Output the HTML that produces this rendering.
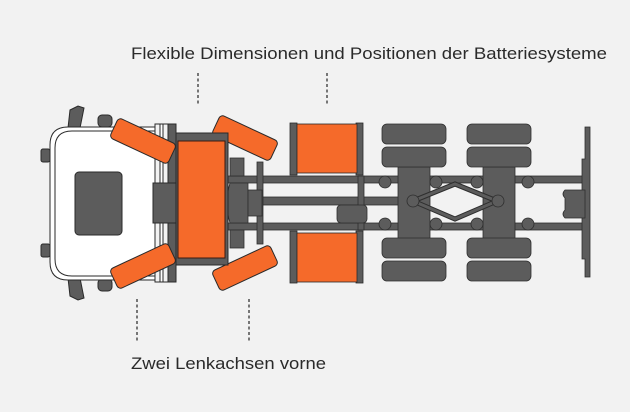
<!DOCTYPE html>
<html><head><meta charset="utf-8"><style>
html,body{margin:0;padding:0;background:#f2f2f2;}
svg{display:block;}
text{font-family:"Liberation Sans",sans-serif;fill:#2a2a2a;}
</style></head><body>
<svg width="630" height="412" viewBox="0 0 630 412" xmlns="http://www.w3.org/2000/svg">
<rect width="630" height="412" fill="#f2f2f2"/>
<text x="131" y="59" font-size="17" textLength="476" lengthAdjust="spacingAndGlyphs">Flexible Dimensionen und Positionen der Batteriesysteme</text>
<text x="131" y="369" font-size="17" textLength="195" lengthAdjust="spacingAndGlyphs">Zwei Lenkachsen vorne</text>
<g stroke="#333" stroke-width="1.3" stroke-dasharray="3,2.5">
<line x1="198" y1="73" x2="198" y2="106"/>
<line x1="327" y1="73" x2="327" y2="106"/>
<line x1="137" y1="299" x2="137" y2="343"/>
<line x1="249" y1="299" x2="249" y2="343"/>
</g>
<g fill="#5c5c5c" stroke="#2e2e2e" stroke-width="0.8">
<!-- chassis rails -->
<rect x="160" y="176" width="427" height="7"/>
<rect x="160" y="223" width="428" height="7"/>
<rect x="250" y="197" width="160" height="8"/>
<!-- rear crossbar -->
<path d="M585 127 h5 v150 h-5 v-18 h-3 v-100 h3 z"/>
<path d="M565 190 h20 v28 h-20 q-4 -4 0 -8 v-12 q-4-4 0-8z"/>
<!-- crossmembers -->
<rect x="257" y="162" width="6" height="82"/>
<rect x="358" y="176" width="6" height="54"/>
<!-- front axle area -->
<rect x="163" y="160" width="13" height="86"/>
<rect x="230" y="158" width="14" height="18"/>
<rect x="230" y="230" width="14" height="18"/>
<path d="M230 183 h18 v40 h-18 q-6 -20 0 -40z"/>
<rect x="248" y="190" width="14" height="26"/>
<rect x="337" y="205" width="30" height="18" rx="4"/>
<!-- rear axles hubs -->
<rect x="398" y="167" width="32" height="72"/>
<rect x="483" y="167" width="32" height="72"/>
<circle cx="385" cy="182" r="6"/><circle cx="436" cy="182" r="6"/>
<circle cx="385" cy="224" r="6"/><circle cx="436" cy="224" r="6"/>
<circle cx="477" cy="182" r="6"/><circle cx="528" cy="182" r="6"/>
<circle cx="477" cy="224" r="6"/><circle cx="528" cy="224" r="6"/>
<path d="M413 201 L455 184 L497 201 L455 219 Z" fill="none" stroke="#2e2e2e" stroke-width="5"/>
<path d="M413 201 L455 184 L497 201 L455 219 Z" fill="none" stroke="#5c5c5c" stroke-width="3"/>
<circle cx="413" cy="201" r="6"/><circle cx="498" cy="201" r="6"/>
<!-- rear tires -->
<rect x="382" y="124" width="64" height="20" rx="5"/>
<rect x="382" y="147" width="64" height="20" rx="5"/>
<rect x="382" y="238" width="64" height="20" rx="5"/>
<rect x="382" y="261" width="64" height="20" rx="5"/>
<rect x="467" y="124" width="64" height="20" rx="5"/>
<rect x="467" y="147" width="64" height="20" rx="5"/>
<rect x="467" y="238" width="64" height="20" rx="5"/>
<rect x="467" y="261" width="64" height="20" rx="5"/>
</g>
<!-- cab -->
<g stroke="#2a2a2a" stroke-width="1">
<path d="M70 110 l8 -4 l6 2 l-4 20 h-12 z" fill="#5c5c5c"/>
<path d="M70 296 l8 4 l6 -2 l-4 -20 h-12 z" fill="#5c5c5c"/>
<rect x="98" y="115" width="14" height="12" rx="4" fill="#5c5c5c"/>
<rect x="98" y="279" width="14" height="12" rx="4" fill="#5c5c5c"/>
<rect x="41" y="149" width="9" height="13" rx="2" fill="#5c5c5c"/>
<rect x="41" y="244" width="9" height="13" rx="2" fill="#5c5c5c"/>
<path d="M68 127 H160 V280 H68 Q50 280 50 262 V145 Q50 127 68 127 Z" fill="#fff"/>
<path d="M72 131 H158 V276 H72 Q55 276 55 259 V148 Q55 131 72 131 Z" fill="none"/>
<rect x="155" y="124" width="20" height="158" fill="#f2f2f2"/>
<rect x="160" y="124" width="3" height="158" fill="#fff"/>
<rect x="168" y="124" width="8" height="158" fill="#5c5c5c"/>
<rect x="75" y="172" width="47" height="63" rx="4" fill="#5c5c5c"/>
<rect x="153" y="183" width="25" height="40" fill="#5c5c5c"/>
</g>
<!-- front wheels -->
<g fill="#f56a2a" stroke="#2a2a2a" stroke-width="1">
<rect x="-32" y="-11" width="64" height="22" rx="4" transform="translate(143,141) rotate(25)"/>
<rect x="-32" y="-11" width="64" height="22" rx="4" transform="translate(143,266) rotate(-25)"/>
<rect x="-32" y="-11" width="64" height="22" rx="4" transform="translate(245,138) rotate(25)"/>
<rect x="-32" y="-11" width="64" height="22" rx="4" transform="translate(245,268) rotate(-25)"/>
</g>
<!-- central battery -->
<rect x="176" y="133" width="52" height="132" fill="#5c5c5c" stroke="#2a2a2a"/>
<rect x="178" y="141" width="47" height="117" fill="#f56a2a" stroke="#3a1a10"/>
<!-- side batteries -->
<g stroke="#2a2a2a" stroke-width="0.8">
<rect x="290" y="123" width="7" height="52" fill="#5c5c5c"/>
<rect x="356" y="123" width="7" height="52" fill="#5c5c5c"/>
<rect x="297" y="124" width="60" height="49" fill="#f56a2a"/>
<rect x="290" y="231" width="7" height="52" fill="#5c5c5c"/>
<rect x="356" y="231" width="7" height="52" fill="#5c5c5c"/>
<rect x="297" y="233" width="60" height="49" fill="#f56a2a"/>
</g>
</svg>
</body></html>
